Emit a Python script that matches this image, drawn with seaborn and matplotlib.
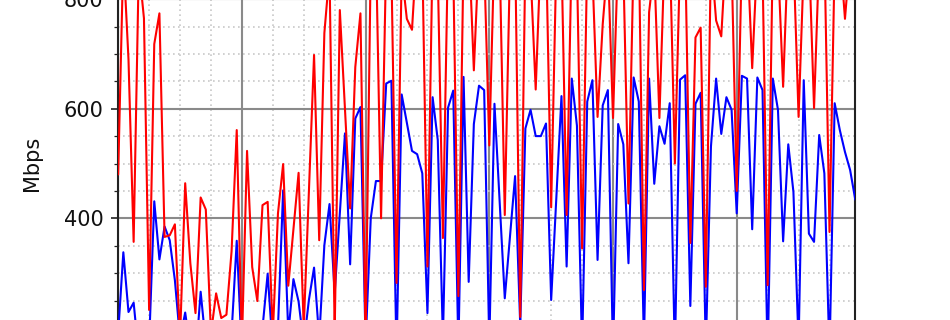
import matplotlib
matplotlib.use("Agg")
import matplotlib.pyplot as plt
import pandas as pd
import seaborn as sns
from matplotlib.ticker import MultipleLocator

# sample index (5-minute samples)
sample = list(range(144))

red_mbps = [
    480, 880, 690, 357, 860, 765, 233, 718, 774, 366,
    369, 389, 180, 464, 318, 227, 438, 416, 190, 263,
    218, 224, 340, 561, 170, 523, 311, 249, 424, 430,
    190, 409, 499, 277, 380, 483, 200, 450, 698, 360,
    738, 850, 190, 780, 600, 418, 676, 774, 180, 870,
    900, 400, 880, 860, 282, 850, 764, 744, 900, 880,
    312, 890, 850, 364, 900, 860, 258, 880, 910, 670,
    890, 870, 533, 900, 880, 406, 860, 900, 220, 880,
    850, 635, 890, 900, 420, 870, 880, 406, 900, 860,
    345, 880, 850, 585, 754, 870, 583, 890, 860, 427,
    880, 900, 269, 776, 860, 583, 880, 900, 500, 870,
    890, 355, 730, 748, 275, 880, 761, 732, 900, 870,
    450, 880, 900, 674, 880, 860, 278, 890, 870, 640,
    900, 880, 585, 860, 890, 601, 880, 900, 375, 870,
    890, 764, 880, 860,
]

blue_mbps = [
    190, 338, 229, 246, 150, 120, 170, 431, 325, 385,
    360, 287, 180, 228, 160, 140, 266, 170, 130, 150,
    120, 140, 190, 359, 150, 170, 130, 160, 200, 299,
    160, 200, 451, 190, 289, 248, 170, 251, 310, 180,
    351, 426, 263, 409, 555, 316, 582, 603, 170, 400,
    468, 468, 646, 651, 150, 626, 575, 523, 517, 482,
    227, 621, 543, 180, 602, 633, 160, 658, 284, 572,
    642, 634, 170, 609, 433, 254, 366, 477, 205, 564,
    598, 550, 550, 573, 251, 437, 623, 312, 655, 569,
    160, 613, 652, 324, 606, 634, 150, 572, 535, 318,
    657, 613, 170, 655, 463, 568, 536, 610, 150, 653,
    661, 240, 609, 629, 160, 531, 655, 554, 621, 598,
    409, 660, 655, 380, 657, 634, 140, 655, 598, 358,
    535, 448, 170, 652, 372, 357, 552, 482, 150, 610,
    561, 521, 488, 434,
]

df = pd.DataFrame({"sample": sample, "red": red_mbps, "blue": blue_mbps})

sns.set_style("white")
plt.rcParams["font.family"] = ["DejaVu Sans"]

fig = plt.figure(figsize=(950 / 150, 320 / 150), dpi=150)
# the axes deliberately extends beyond the figure (cropped view)
ax = fig.add_axes([0.1244, -0.3672, 0.7759, 1.7125])

sns.lineplot(data=df, x="sample", y="blue", color="#0000ff", lw=1.0,
             ax=ax, legend=False, zorder=3)
sns.lineplot(data=df, x="sample", y="red", color="#ff0000", lw=1.0,
             ax=ax, legend=False, zorder=4)

ax.set_xlim(0, 143)
ax.set_ylim(0, 1000)
ax.xaxis.set_major_locator(MultipleLocator(24))
ax.xaxis.set_minor_locator(MultipleLocator(6))
ax.yaxis.set_major_locator(MultipleLocator(200))
ax.yaxis.set_minor_locator(MultipleLocator(50))

ax.grid(which="major", color="#8a8a8a", lw=1.0, ls="-")
ax.grid(which="minor", color="#c8c8c8", lw=0.8, ls=(0, (1, 2)))
ax.set_axisbelow(True)

ax.tick_params(axis="y", which="both", left=True, direction="out",
               color="#222222", labelsize=10, labelcolor="#111111")
ax.tick_params(axis="y", which="major", length=3.5, width=0.8, pad=3.5)
ax.tick_params(axis="y", which="minor", length=2.0, width=0.6)
ax.tick_params(axis="x", which="both", bottom=False, labelbottom=False)

ax.set_xlabel("")
ax.set_ylabel("Mbps", fontsize=10, labelpad=4, color="#111111")

for s in ax.spines.values():
    s.set_color("#222222")
    s.set_linewidth(1.0)

fig.savefig("out.png", dpi=150)
